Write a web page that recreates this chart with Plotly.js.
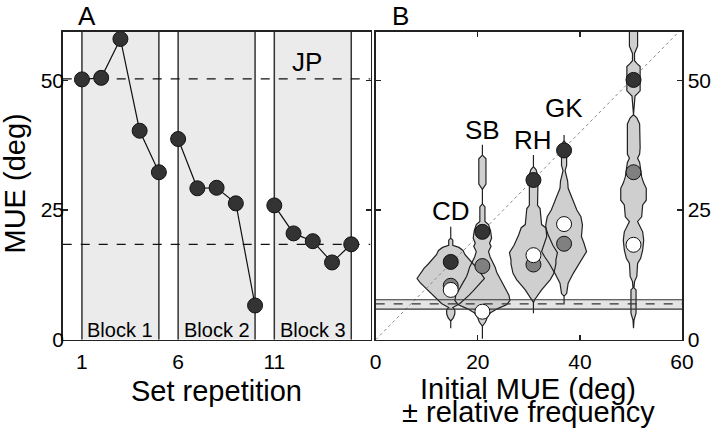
<!DOCTYPE html>
<html>
<head>
<meta charset="utf-8">
<script src="https://cdn.plot.ly/plotly-3.0.1.min.js"></script>
<style>html,body{margin:0;padding:0;background:#fff;}#chart{width:720px;height:432px;}</style>
</head>
<body>
<div id="chart"></div>
<script>
// ---------- Panel A data ----------
const repetition = [1,2,3,4,5,6,7,8,9,10,11,12,13,14,15];
const mueJP = [50.2,50.5,58.0,40.3,32.3,38.7,29.2,29.3,26.3,6.6,25.9,20.5,19.0,14.9,18.4];
const blockStart = [1,6,11];
const blockEnd = [5,10,15];
const blockLabels = ['Block 1','Block 2','Block 3'];
const refLevelsA = [50.3, 18.4];

// ---------- Panel B data ----------
const subjects = ['CD','SB','RH','GK','JP'];
const initialMUE = [14.7, 20.9, 30.9, 36.9, 50.5];
const block1MUE = [15.0, 20.8, 30.8, 36.5, 50.1];
const block2MUE = [10.4, 14.2, 14.5, 18.5, 32.3];
const block3MUE = [9.6, 5.4, 16.3, 22.3, 18.3];
const bandLow = 5.9, bandMid = 6.9, bandHigh = 7.7;

// relative-frequency profiles (level, half width)
const cdLevel = [21.8,19.6,19.2,18.2,17.8,17.2,16.4,15.4,14.6,13.8,12.8,11.8,11.0,10.2,9.4,8.6,7.8,7.0,6.2,5.8,5.0,4.2,3.6,2.2];
const cdFreq  = [0,0,0.4,0.4,1.6,2.4,2.8,3.6,4.4,5.2,5.9,6.6,6.0,5.2,4.4,3.6,2.8,1.8,0.4,0.8,0.8,0.5,0,0];
const sbLevel = [37.6,35.6,34.9,30.0,29.0,26.2,25.6,24.4,22.8,22.2,21.0,19.6,18.6,18.0,17.0,16.0,15.0,14.0,13.0,12.2,11.0,9.8,8.6,7.6,6.8,6.0,5.2,4.2,3.4,2.6,0.2];
const sbFreq  = [0,0,0.7,0.7,0,0,0.5,0.5,0.5,1.2,1.6,1.8,1.4,1.7,1.2,1.5,2.0,2.5,2.8,3.1,3.8,4.5,5.2,5.4,4.8,3.0,1.6,0.9,0.6,0,0];
const rhLevel = [35.6,33.4,32.8,31.5,29.4,25.9,25.3,22.2,21.6,20.2,18.2,16.8,15.4,14.6,12.8,11.6,9.6,7.8,7.2,5.1];
const rhFreq  = [0,0,0.5,0.9,0.8,0.8,1.3,1.6,2.4,2.9,3.8,4.7,4.4,4.4,4.0,3.3,1.6,0.3,0,0];
const gkLevel = [39.5,38.4,37.6,35.4,33.6,32.6,30.6,29.2,28.2,26.9,25.0,23.7,22.1,19.9,18.6,17.0,16.0,14.7,12.8,10.9,8.9,8.4,7.0];
const gkFreq  = [0,0,0.5,0.5,0.5,0.2,0.7,0.8,1.2,1.8,2.5,3.3,3.6,3.4,3.9,4.4,3.8,2.9,1.8,0.8,0.5,0,0];
const jpLevel = [61,56.6,55.2,53.8,53.3,52.7,48.0,47.0,43.4,42.8,41.6,37.0,35.8,35.0,34.2,31.4,30.2,29.2,26.9,26.0,23.7,22.8,21.8,20.8,19.2,17.3,15.7,14.7,12.2,11.2,10.0,9.6,5.1,3.8,2.2];
const jpFreq  = [0.8,0.8,0.2,0.2,0.65,1.3,1.3,0.3,0,0.65,1.2,1.3,1.2,0.8,1.2,1.6,2.0,2.5,2.5,1.8,1.6,0.8,1.3,1.8,2.0,1.8,1.4,0.8,0.65,0.2,0.1,0.5,0.5,0.1,0];
const profiles = [[cdLevel,cdFreq],[sbLevel,sbFreq],[rhLevel,rhFreq],[gkLevel,gkFreq],[jpLevel,jpFreq]];

const FONT = 'Liberation Sans, Arial, sans-serif';
const traces = [];

// Panel A: connected points per block
blockStart.forEach((s, b) => {
  const xs = [], ys = [];
  repetition.forEach((r, i) => { if (r >= s && r <= blockEnd[b]) { xs.push(r); ys.push(mueJP[i]); } });
  traces.push({x: xs, y: ys, xaxis: 'x', yaxis: 'y', type: 'scatter', mode: 'lines+markers',
    line: {color: '#111', width: 1.2},
    marker: {size: 15, color: '#333', line: {color: '#111', width: 1}},
    hoverinfo: 'skip', showlegend: false, cliponaxis: false});
});

// Panel B: violin fills
function outline(center, lev, fr) {
  const xs = [], ys = [];
  for (let i = 0; i < lev.length; i++) { xs.push(center - fr[i]); ys.push(lev[i]); }
  for (let i = lev.length - 1; i >= 0; i--) { xs.push(center + fr[i]); ys.push(lev[i]); }
  xs.push(xs[0]); ys.push(ys[0]);
  return [xs, ys];
}
profiles.forEach((p, k) => {
  const [xs, ys] = outline(initialMUE[k], p[0], p[1]);
  traces.push({x: xs, y: ys, xaxis: 'x2', yaxis: 'y2', type: 'scatter', mode: 'lines',
    fill: 'toself', fillcolor: '#cfcfcf', line: {width: 0, color: 'rgba(0,0,0,0)'},
    hoverinfo: 'skip', showlegend: false});
});
profiles.forEach((p, k) => {
  const [xs, ys] = outline(initialMUE[k], p[0], p[1]);
  traces.push({x: xs, y: ys, xaxis: 'x2', yaxis: 'y2', type: 'scatter', mode: 'lines',
    line: {width: 1.2, color: '#222'}, hoverinfo: 'skip', showlegend: false});
});
// diagonal
traces.push({x: [0, 60], y: [0, 60], xaxis: 'x2', yaxis: 'y2', type: 'scatter', mode: 'lines',
  line: {color: '#888', width: 1, dash: 'dot'}, hoverinfo: 'skip', showlegend: false});
// band lines
[[bandLow,'solid'],[bandMid,'dash'],[bandHigh,'solid']].forEach(([v, d]) => {
  traces.push({x: [0, 60], y: [v, v], xaxis: 'x2', yaxis: 'y2', type: 'scatter', mode: 'lines',
    line: {color: '#333', width: 1.2, dash: d}, hoverinfo: 'skip', showlegend: false});
});
// markers
[[block1MUE,'#333'],[block2MUE,'#808080'],[block3MUE,'#ffffff']].forEach(([vals, c]) => {
  traces.push({x: initialMUE, y: vals, xaxis: 'x2', yaxis: 'y2', type: 'scatter', mode: 'markers',
    marker: {size: 15, color: c, line: {color: '#111', width: 1}},
    hoverinfo: 'skip', showlegend: false, cliponaxis: false});
});

// Shapes
const shapes = [];
blockStart.forEach((s, b) => {
  shapes.push({type: 'rect', xref: 'x', yref: 'y', x0: s, x1: blockEnd[b], y0: 0, y1: 59.4,
    fillcolor: '#ebebeb', line: {width: 0}, layer: 'below'});
});
blockStart.concat(blockEnd).forEach(v => {
  shapes.push({type: 'line', xref: 'x', yref: 'y', x0: v, x1: v, y0: 0, y1: 59.4,
    line: {color: '#333', width: 1.5}, layer: 'below'});
});
refLevelsA.forEach(v => {
  shapes.push({type: 'line', xref: 'x', yref: 'y', x0: 0, x1: 16, y0: v, y1: v,
    line: {color: '#111', width: 1.3, dash: 'dash'}, layer: 'below'});
});
shapes.push({type: 'rect', xref: 'x2', yref: 'y2', x0: 0, x1: 60, y0: bandLow, y1: bandHigh,
  fillcolor: '#e4e4e4', line: {width: 0}, layer: 'below'});

// Annotations
const ann = [];
function txt(text, x, y, size, extra) {
  return Object.assign({text: text, x: x, y: y, xref: 'paper', yref: 'paper', showarrow: false,
    xanchor: 'center', yanchor: 'middle', font: {family: FONT, size: size, color: '#000'}}, extra || {});
}
ann.push(txt('A', 87/720, 1 - 16/432, 26));
ann.push(txt('B', 400/720, 1 - 16/432, 26));
ann.push(txt('MUE (deg)', 14/720, 1 - 183.5/432, 29, {textangle: -90}));
ann.push(txt('Set repetition', 216/720, 1 - 391/432, 29));
ann.push(txt('Initial MUE (deg)', 528/720, 1 - 389/432, 29));
ann.push(txt('± relative frequency', 528/720, 1 - 412/432, 29));
ann.push({text: 'JP', x: 12.7, y: 53.5, xref: 'x', yref: 'y', showarrow: false, xanchor: 'center', yanchor: 'middle',
  font: {family: FONT, size: 26, color: '#000'}});
blockLabels.forEach((t, b) => {
  ann.push({text: t, x: (blockStart[b] + blockEnd[b]) / 2, y: 1.9, xref: 'x', yref: 'y', showarrow: false,
    xanchor: 'center', yanchor: 'middle', font: {family: FONT, size: 20, color: '#000'}});
});
const labelLevel = [24.8, 40.5, 38.6, 44.6, 63.6];
subjects.forEach((s, k) => {
  ann.push({text: s, x: initialMUE[k], y: labelLevel[k], xref: 'x2', yref: 'y2', showarrow: false,
    xanchor: 'center', yanchor: 'middle', font: {family: FONT, size: 26, color: '#000'}});
});

const yDom = [(432 - 339.7) / 432, (432 - 31.7) / 432];
const axBase = {showgrid: false, zeroline: false, showline: true, linecolor: '#222', linewidth: 1.5,
  tickfont: {family: FONT, size: 21, color: '#000'}, tickcolor: '#222', ticklen: 5, tickwidth: 1.2};

const layout = {
  width: 720, height: 432, margin: {l: 0, r: 0, t: 0, b: 0},
  paper_bgcolor: '#fff', plot_bgcolor: '#fff', showlegend: false,
  xaxis: Object.assign({}, axBase, {domain: [62.7/720, 370.5/720], range: [0, 16], tickvals: [1, 6, 11],
    ticks: '', mirror: true, anchor: 'y', ticklabelstandoff: 3}),
  yaxis: Object.assign({}, axBase, {domain: yDom, range: [0, 59.4], tickvals: [0, 25, 50],
    ticks: 'inside', mirror: 'ticks', anchor: 'x', ticklabelstandoff: -7}),
  xaxis2: Object.assign({}, axBase, {domain: [375.7/720, 682/720], range: [0, 60], tickvals: [0, 20, 40, 60],
    ticks: 'inside', mirror: 'ticks', anchor: 'y2', ticklabelstandoff: 3}),
  yaxis2: Object.assign({}, axBase, {domain: yDom, range: [0, 59.4], tickvals: [0, 25, 50],
    ticks: 'inside', mirror: 'ticks', anchor: 'x2', side: 'right', ticklabelstandoff: 0}),
  shapes: shapes, annotations: ann
};

Plotly.newPlot('chart', traces, layout, {staticPlot: true, displayModeBar: false});
</script>
</body>
</html>
